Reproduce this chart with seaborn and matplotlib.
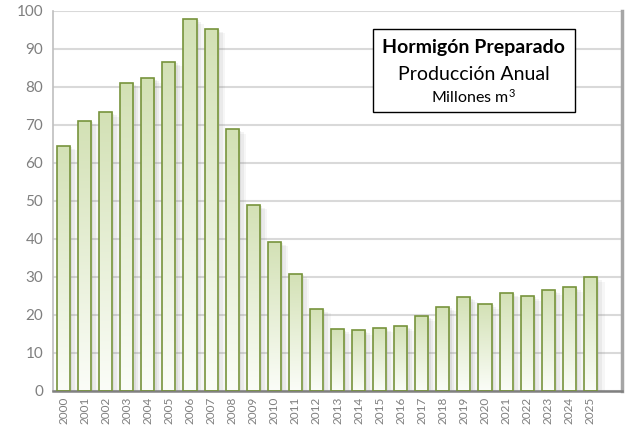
import numpy as np
import pandas as pd
import matplotlib
matplotlib.use("Agg")
import matplotlib.pyplot as plt
import seaborn as sns
from matplotlib.patches import Rectangle
from matplotlib.colors import LinearSegmentedColormap

years = [str(y) for y in range(2000, 2026)]
values = [64.5, 71.1, 73.3, 81.0, 82.3, 86.7, 97.9, 95.3, 68.9, 49.0,
          39.3, 30.8, 21.7, 16.2, 16.0, 16.7, 17.0, 19.7, 22.2, 24.7,
          22.9, 25.9, 25.0, 26.5, 27.3, 30.0]
yticks = [0, 10, 20, 30, 40, 50, 60, 70, 80, 90, 100]
title_lines = ["Hormigón Preparado", "Producción Anual", "Millones m$^3$"]

df = pd.DataFrame({"year": years, "value": values})

sns.set_style("white")
plt.rcParams["font.family"] = ["Lato", "DejaVu Sans"]
plt.rcParams["mathtext.fontset"] = "custom"
plt.rcParams["mathtext.rm"] = "Lato"
plt.rcParams["mathtext.it"] = "Lato"
plt.rcParams["mathtext.default"] = "regular"

fig = plt.figure(figsize=(6.27, 4.25), dpi=100)
ax = fig.add_axes([53 / 627, 1 - 391 / 425, (622 - 53) / 627, (391 - 11) / 425])

sns.barplot(data=df, x="year", y="value", ax=ax, width=0.62, color="#d6e3bc",
            edgecolor="#77933c", linewidth=1.2, zorder=3)

cmap = LinearSegmentedColormap.from_list("g", ["#fbfdf8", "#d3e1b5"])
grad = np.linspace(0, 1, 256).reshape(-1, 1)
for p in ax.patches:
    x0, w, h = p.get_x(), p.get_width(), p.get_height()
    p.set_facecolor("none")
    # soft shadow
    for k, a in enumerate([0.12, 0.09, 0.07]):
        d = 0.06 + 0.07 * k
        ax.add_patch(Rectangle((x0 + d, -1), w + d * 0.8, h + 1 - d * 6,
                               facecolor="#808080", alpha=a, lw=0, zorder=1.5))
    im = ax.imshow(grad, extent=[x0, x0 + w, 0, h], origin="lower", aspect="auto",
                   cmap=cmap, zorder=2)
    im.set_clip_path(p)

ax.set_xlim(-0.5, 26.5)
ax.set_ylim(0, 100)
ax.set_yticks(yticks)
ax.set_xlabel("")
ax.set_ylabel("")
ax.yaxis.grid(True, color="#d9d9d9", lw=1.5, zorder=0)
ax.set_axisbelow(True)

ax.set_xticks(range(len(years)))
ax.set_xticklabels(years, rotation=90, fontsize=8.5, color="#7f7f7f")
ax.set_xticks(np.arange(-0.5, 27, 1), minor=True)
ax.tick_params(axis="x", which="major", length=0, pad=4)
ax.tick_params(axis="x", which="minor", length=4, color="#808080", width=1)
ax.tick_params(axis="y", labelsize=11, labelcolor="#7f7f7f", length=4,
               color="#bfbfbf", pad=3)

ax.spines["top"].set_visible(False)
ax.spines["left"].set_color("#bfbfbf")
ax.spines["left"].set_linewidth(1.2)
ax.spines["bottom"].set_color("#808080")
ax.spines["bottom"].set_linewidth(1.8)
ax.spines["right"].set_color("#a6a6a6")
ax.spines["right"].set_linewidth(2.5)

# title box
bx0, bx1 = 372.7 / 627, 575 / 627
by0, by1 = 1 - 111.7 / 425, 1 - 29 / 425
fig.patches.append(Rectangle((bx0, by0), bx1 - bx0, by1 - by0, transform=fig.transFigure,
                             facecolor="white", edgecolor="black", lw=1, zorder=5))
cx = (bx0 + bx1) / 2
fig.text(cx, 1 - 47.7 / 425, title_lines[0], ha="center", va="center",
         fontsize=14, fontweight="bold", color="black", zorder=6)
fig.text(cx, 1 - 75 / 425, title_lines[1], ha="center", va="center",
         fontsize=14, color="black", zorder=6)
fig.text(cx, 1 - 97 / 425, title_lines[2], ha="center", va="center",
         fontsize=11.5, color="black", zorder=6)

fig.savefig("out.png", dpi=100)
